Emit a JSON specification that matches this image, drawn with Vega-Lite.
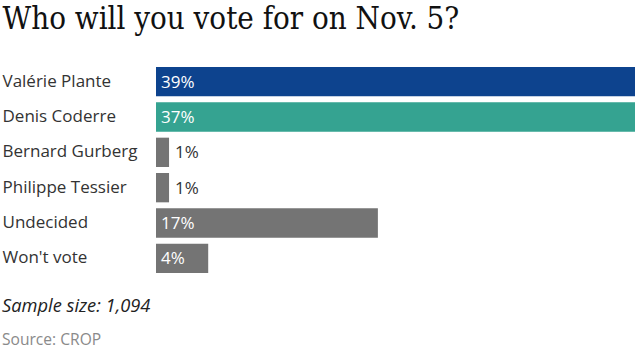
{
  "$schema": "https://vega.github.io/schema/vega-lite/v6.json",
  "width": 479,
  "height": 212,
  "autosize": {"type": "none"},
  "padding": {"left": 156, "top": 64, "right": 0, "bottom": 81},
  "background": "white",
  "config": {"view": {"stroke": null}, "font": "Open Sans"},
  "title": {
    "text": "Sample size: 1,094",
    "subtitle": "Source: CROP",
    "orient": "bottom",
    "anchor": "start",
    "frame": "group",
    "dx": -154,
    "offset": 22,
    "font": "Open Sans",
    "fontSize": 18.3,
    "fontStyle": "italic",
    "fontWeight": "normal",
    "color": "#222222",
    "subtitleFont": "Open Sans",
    "subtitleFontSize": 15.6,
    "subtitleColor": "#8a8a8a",
    "subtitlePadding": 17
  },
  "data": {
    "values": [
      {"name": "Valérie Plante", "share": 0.39, "group": "Plante"},
      {"name": "Denis Coderre", "share": 0.37, "group": "Coderre"},
      {"name": "Bernard Gurberg", "share": 0.01, "group": "Other"},
      {"name": "Philippe Tessier", "share": 0.01, "group": "Other"},
      {"name": "Undecided", "share": 0.17, "group": "Other"},
      {"name": "Won't vote", "share": 0.04, "group": "Other"}
    ]
  },
  "encoding": {
    "y": {
      "field": "name",
      "type": "nominal",
      "sort": null,
      "scale": {"paddingInner": 0.17, "paddingOuter": 0.085},
      "axis": {
        "title": "Who will you vote for on Nov. 5?",
        "titleAngle": 0,
        "titleX": -154,
        "titleY": -36,
        "titleAlign": "left",
        "titleBaseline": "alphabetic",
        "titleFont": "'DejaVu Serif Condensed', 'DejaVu Serif'",
        "titleFontSize": 31,
        "titleFontWeight": "normal",
        "titleColor": "#111111",
        "domain": false,
        "ticks": false,
        "labelPadding": 154,
        "labelAlign": "left",
        "labelFont": "Open Sans",
        "labelFontSize": 17,
        "labelColor": "#333333"
      }
    }
  },
  "layer": [
    {
      "mark": {"type": "bar"},
      "encoding": {
        "x": {
          "field": "share",
          "type": "quantitative",
          "scale": {"domain": [0, 0.367], "clamp": true, "nice": false},
          "axis": null
        },
        "color": {
          "field": "group",
          "type": "nominal",
          "scale": {"domain": ["Plante", "Coderre", "Other"], "range": ["#0d438e", "#35a391", "#747474"]},
          "legend": null
        }
      }
    },
    {
      "transform": [{"filter": "datum.share > 0.02"}],
      "mark": {"type": "text", "align": "left", "baseline": "middle", "dx": 5, "dy": 1, "fontSize": 17, "color": "white", "font": "Open Sans"},
      "encoding": {
        "x": {"datum": 0, "type": "quantitative"},
        "text": {"field": "share", "type": "quantitative", "format": ".0%"}
      }
    },
    {
      "transform": [{"filter": "datum.share <= 0.02"}],
      "mark": {"type": "text", "align": "left", "baseline": "middle", "dx": 6, "dy": 1, "fontSize": 17, "color": "#333333", "font": "Open Sans"},
      "encoding": {
        "x": {"field": "share", "type": "quantitative"},
        "text": {"field": "share", "type": "quantitative", "format": ".0%"}
      }
    }
  ]
}
